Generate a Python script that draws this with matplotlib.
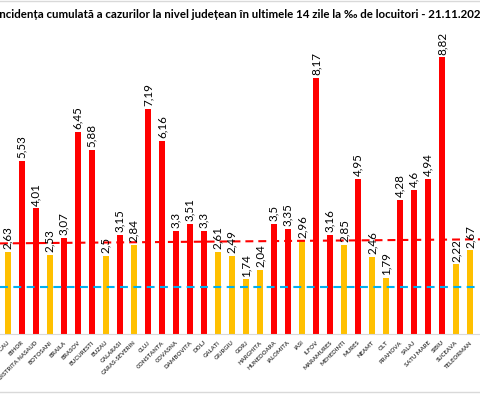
import matplotlib
matplotlib.use('Agg')
import matplotlib.pyplot as plt
from matplotlib.lines import Line2D
from matplotlib.transforms import ScaledTranslation

# ---------------- data ----------------
counties = ["ARGES", "BACAU", "BIHOR", "BISTRITA NASAUD", "BOTOSANI", "BRAILA", "BRASOV",
            "BUCURESTI", "BUZAU", "CALARASI", "CARAS-SEVERIN", "CLUJ", "CONSTANTA",
            "COVASNA", "DAMBOVITA", "DOLJ", "GALATI", "GIURGIU", "GORJ", "HARGHITA",
            "HUNEDOARA", "IALOMITA", "IASI", "ILFOV", "MARAMURES", "MEHEDINTI", "MURES",
            "NEAMT", "OLT", "PRAHOVA", "SALAJ", "SATU MARE", "SIBIU", "SUCEAVA",
            "TELEORMAN", "TIMIS"]
values = [4.6, 2.63, 5.53, 4.01, 2.53, 3.07, 6.45,
          5.88, 2.5, 3.15, 2.84, 7.19, 6.16,
          3.3, 3.51, 3.3, 2.61, 2.49, 1.74, 2.04,
          3.5, 3.35, 2.96, 8.17, 3.16, 2.85, 4.95,
          2.46, 1.79, 4.28, 4.6, 4.94, 8.82, 2.22,
          2.67, 5.8]
red_threshold = 3.0
red_line_ends = [2.89, 3.02]   # the red dashed line is drawn slightly tilted
blue_threshold = 1.5
title = ("Incidența cumulată a cazurilor la nivel județean în ultimele 14 zile "
         "la ‰ de locuitori - 21.11.2020")

RED = "#FF0000"
YELLOW = "#FFC000"
BLUE = "#00B0F0"

plt.rcParams['font.family'] = ['Lato', 'DejaVu Sans']

W, H = 480, 394
fig = plt.figure(figsize=(W / 100, H / 100), dpi=100)

# layout (pixels)
first_px = 7.7      # pixel x of BACAU (index 1)
step = 14.01
axis_y = 334
px_per_unit = 31.35
top_px = 30

ax = fig.add_axes([0, (H - axis_y) / H, 1, (axis_y - top_px) / H])
x_left = 1 - first_px / step
x_right = 1 + (W - first_px) / step

xs = list(range(len(counties)))
colors = [RED if v > red_threshold else YELLOW for v in values]
ax.bar(xs, values, width=0.43, color=colors, zorder=2)

for x, v in zip(xs, values):
    lbl = str(v).replace('.', ',')
    ax.annotate(lbl, (x, v), xytext=(0, 2), textcoords='offset points',
                rotation=90, ha='center', va='bottom', fontsize=8.4,
                color='black', zorder=5)

ax.plot([x_left, x_right], red_line_ends, color=RED, lw=1.5,
        ls=(0, (3.8, 2.4)), zorder=3)
ax.plot([x_left, x_right], [blue_threshold, blue_threshold], color=BLUE, lw=1.5,
        ls=(0, (3.8, 2.6)), zorder=3)

ax.set_xticks(xs)
ax.set_xticklabels(counties, rotation=45, ha='right', va='center',
                   rotation_mode='anchor', fontsize=4.3, fontweight='bold',
                   color='#404040')
ax.tick_params(axis='x', length=0, pad=5.5)
shift = ScaledTranslation(1.5 / 100, 0, fig.dpi_scale_trans)
for lab in ax.get_xticklabels():
    lab.set_transform(lab.get_transform() + shift)
ax.set_yticks([])
ax.set_xlim(x_left, x_right)
ax.set_ylim(0, (axis_y - top_px) / px_per_unit)
for s in ['left', 'right', 'top']:
    ax.spines[s].set_visible(False)
ax.spines['bottom'].set_color('#D9D9D9')
ax.spines['bottom'].set_linewidth(0.8)
ax.set_facecolor('none')

# title: scale font to the target width
t = fig.text(0, 1 - 14 / H, title, fontweight='bold', fontsize=7.2,
             va='center', ha='left', color='black')
fig.canvas.draw()
bb = t.get_window_extent()
t.set_fontsize(7.2 * 490 / bb.width)
t.set_x(-4 / W)

# chart-area border lines
fig.add_artist(Line2D([0, 1], [1 - 1 / H] * 2, color='#D9D9D9', lw=1))
fig.add_artist(Line2D([0, 1], [1 - 392 / H] * 2, color='#D9D9D9', lw=1))

fig.savefig('out.png', dpi=100)
